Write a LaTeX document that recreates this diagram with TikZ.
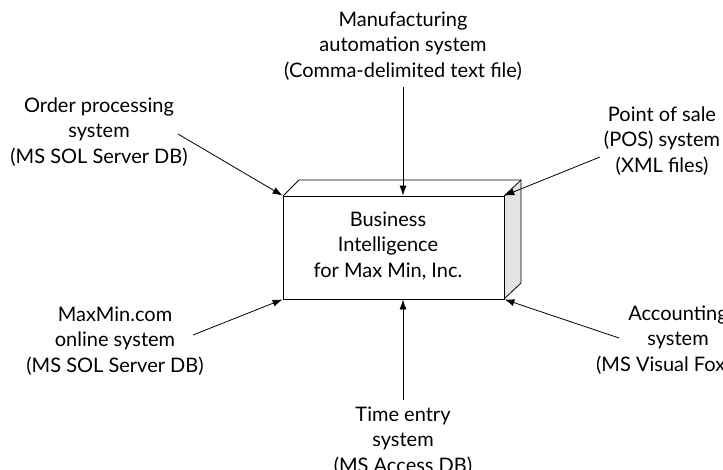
\documentclass[tikz,border=0pt]{standalone}
\usepackage{fontspec}
\setmainfont{Lato}
\usepackage{tikz}
\usetikzlibrary{arrows.meta,positioning,backgrounds}

\tikzset{
  source/.style={align=center, inner sep=0pt, font=\fontsize{20}{25.5}\selectfont},
  feed/.style={-{Latex[length=10pt,width=7pt]}, line width=0.8pt},
}

\begin{document}
\begin{tikzpicture}[x=1pt,y=-1pt]

    \useasboundingbox (0,0) rectangle (723,469);
    \clip (0,0) rectangle (723,469);

    % Box
    \fill[gray!22] (504,196) -- (521,180) -- (521,283) -- (504,299) -- cycle;
    \draw[line width=0.8pt] (283,196) -- (299,180) -- (521,180) -- (521,283) -- (504,299);
    \draw[line width=0.8pt] (504,196) -- (521,180);
    \node[draw, line width=0.8pt, minimum width=221pt, minimum height=103pt, inner sep=0pt] (bi) at (393.5,247.5) {};
    \node[source] (bitext) at (388,246) {Business\\Intelligence\\for Max Min, Inc.};

    % Sources
    \node[source] (order) at (99,132) {Order processing\\system\\(MS SOL Server DB)};
    \node[source] (maxmin) at (115,341) {MaxMin.com\\online system\\(MS SOL Server DB)};
    \node[source] (manuf) at (403,46) {Manufacturing\\automation system\\(Comma-delimited text file)};
    \node[source] (pos) at (662,141) {Point of sale\\(POS) system\\(XML files)};
    \node[source] (acct) at (678,340) {Accounting\\system\\(MS Visual FoxPro)};
    \node[source] (time) at (403,441) {Time entry\\system\\(MS Access DB)};

    % Arrow tails
    \coordinate (order-out) at (178,134);
    \coordinate (maxmin-out) at (193,335);
    \coordinate (manuf-out) at (403,87);
    \coordinate (pos-out) at (600,157);
    \coordinate (acct-out) at (619,338);
    \coordinate (time-out) at (403,400);

    % Feeds
    \draw[feed] (order-out) -- (bi.north west);
    \draw[feed] (maxmin-out) -- (bi.south west);
    \draw[feed] (manuf-out) -- ([xshift=9.5pt]bi.north);
    \draw[feed] (pos-out) -- (bi.north east);
    \draw[feed] (acct-out) -- (bi.south east);
    \draw[feed] (time-out) -- ([xshift=9.5pt]bi.south);

\end{tikzpicture}
\end{document}
